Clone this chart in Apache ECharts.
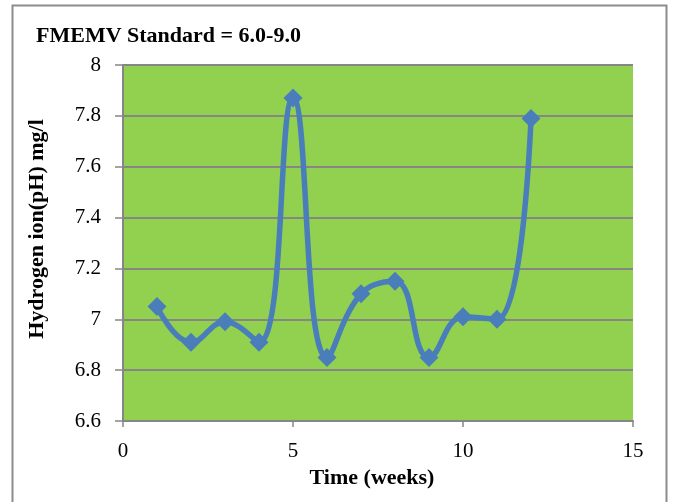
<!DOCTYPE html>
<html>
<head>
<meta charset="utf-8">
<script src="https://cdn.jsdelivr.net/npm/echarts@6/dist/echarts.min.js"></script>
<style>
  html, body { margin: 0; padding: 0; background: #ffffff; }
  #chart { width: 673px; height: 502px; }
</style>
</head>
<body>
<div id="chart"></div>
<script>
// Weekly pH readings
const weeks = [1, 2, 3, 4, 5, 6, 7, 8, 9, 10, 11, 12];
const phValues = [7.05, 6.91, 6.99, 6.91, 7.87, 6.85, 7.10, 7.15, 6.85, 7.01, 7.00, 7.79];
const yTicks = [6.6, 6.8, 7, 7.2, 7.4, 7.6, 7.8, 8];
const xTicks = [0, 5, 10, 15];

const serif = '"Liberation Serif", "Times New Roman", serif';
const gridGray = '#868686';

const chart = echarts.init(document.getElementById('chart'), null, { renderer: 'canvas' });

chart.setOption({
  backgroundColor: '#ffffff',
  animation: false,
  title: {
    text: 'FMEMV Standard = 6.0-9.0',
    left: 31,
    top: 20,
    textStyle: { fontFamily: serif, fontWeight: 'bold', fontSize: 22, color: '#000' }
  },
  graphic: [{
    type: 'rect',
    shape: { x: 12.5, y: 5.5, width: 654, height: 520 },
    style: { fill: 'none', stroke: '#8c8c8c', lineWidth: 2 },
    silent: true
  }],
  grid: {
    left: 123, top: 65, width: 510, height: 356,
    show: true, backgroundColor: '#92D050', borderWidth: 0
  },
  xAxis: {
    type: 'value',
    min: 0, max: 15, interval: 5,
    name: 'Time (weeks)',
    nameLocation: 'middle',
    nameGap: 34,
    nameTextStyle: { fontFamily: serif, fontWeight: 'bold', fontSize: 22, color: '#000', padding: [0, 12, 0, 0] },
    axisLine: { show: true, lineStyle: { color: gridGray, width: 2 } },
    axisTick: { show: true, inside: false, length: 6, lineStyle: { color: gridGray, width: 1.5 } },
    axisLabel: {
      fontFamily: serif, fontSize: 21, color: '#000', margin: 20,
      formatter: v => (xTicks.includes(v) ? String(v) : '')
    },
    splitLine: { show: false }
  },
  yAxis: {
    type: 'value',
    min: 6.6, max: 8, interval: 0.2,
    name: 'Hydrogen ion(pH) mg/l',
    nameLocation: 'middle',
    nameGap: 75,
    nameRotate: 90,
    nameTextStyle: { fontFamily: serif, fontWeight: 'bold', fontSize: 22, color: '#000', padding: [0, 0, 0, 28] },
    axisLine: { show: true, lineStyle: { color: gridGray, width: 2 } },
    axisTick: { show: true, inside: false, length: 8, lineStyle: { color: gridGray, width: 1.5 } },
    axisLabel: {
      fontFamily: serif, fontSize: 21, color: '#000', margin: 22,
      formatter: v => {
        const r = Math.round(v * 10) / 10;
        const hit = yTicks.find(t => Math.abs(t - r) < 1e-6);
        return hit === undefined ? '' : String(hit);
      }
    },
    splitLine: { show: true, lineStyle: { color: gridGray, width: 2 } }
  },
  series: [{
    type: 'line',
    data: weeks.map((w, i) => [w, phValues[i]]),
    smooth: 0.45,
    symbol: 'diamond',
    symbolSize: 19,
    itemStyle: { color: '#4A7EBB' },
    lineStyle: { color: '#4A7EBB', width: 5.5 },
    z: 3
  }]
});
</script>
</body>
</html>
